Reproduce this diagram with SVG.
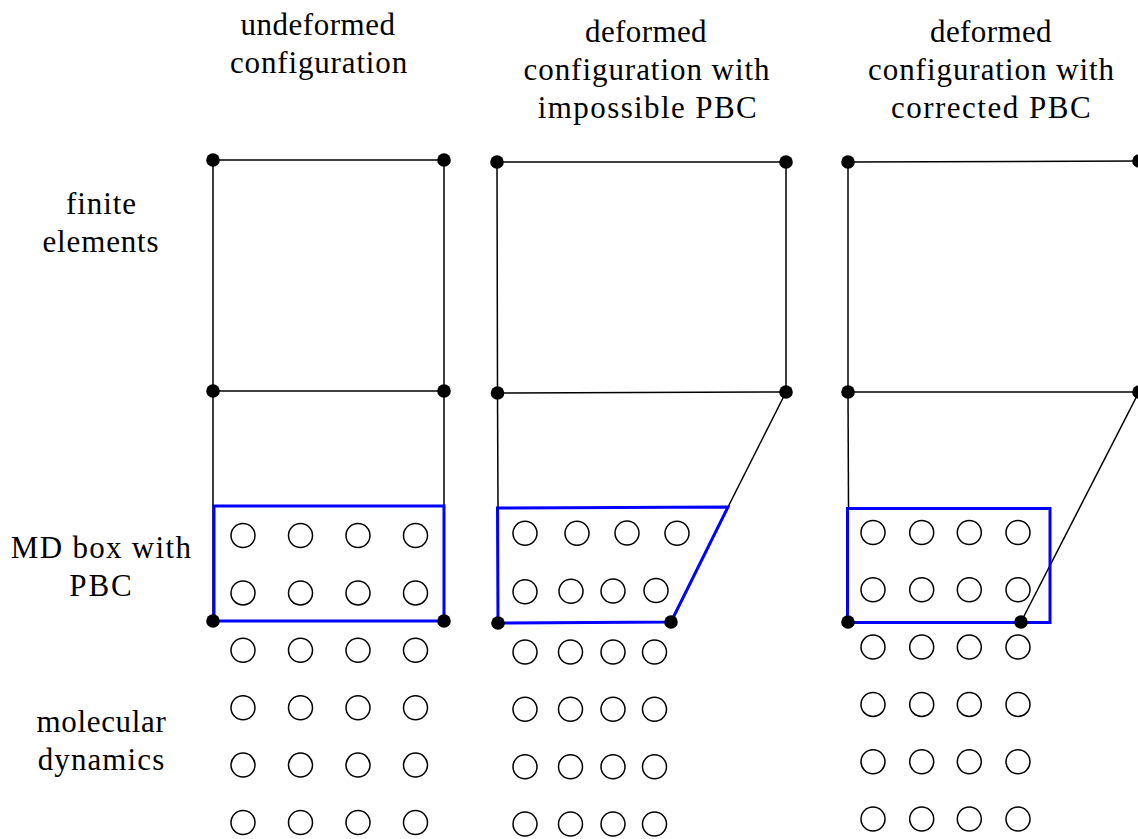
<svg xmlns="http://www.w3.org/2000/svg" width="1138" height="839" viewBox="0 0 1138 839">
<style>
.ln{stroke:#000;stroke-width:1.5;fill:none}
.box{stroke:#0000ff;stroke-width:3;fill:none;stroke-linejoin:miter}
.at{stroke:#000;stroke-width:1.5;fill:#fff}
.nd{fill:#000}
</style>
<defs>
<circle id="a" r="12" class="at"/>
<circle id="n" r="6.8" class="nd"/>
</defs>
<rect width="1138" height="839" fill="#fff"/>
<g id="labels" font-size="31" text-anchor="middle" fill="#000">
<text x="318" y="35" font-family="Liberation Serif" letter-spacing="0.5">undeformed</text>
<text x="319" y="73" font-family="Liberation Serif" letter-spacing="0.85">configuration</text>
<text x="646" y="42" font-family="Liberation Serif" letter-spacing="0.4">deformed</text>
<text x="647" y="80" font-family="Liberation Serif" letter-spacing="0.95">configuration with</text>
<text x="648" y="118" font-family="Liberation Serif" letter-spacing="1.4">impossible PBC</text>
<text x="991" y="42" font-family="Liberation Serif" letter-spacing="0.4">deformed</text>
<text x="991.5" y="80" font-family="Liberation Serif" letter-spacing="0.95">configuration with</text>
<text x="991.5" y="118" font-family="Liberation Serif" letter-spacing="1.5">corrected PBC</text>
<text x="101.5" y="214" font-family="Liberation Serif" letter-spacing="0.9">finite</text>
<text x="101" y="252" font-family="Liberation Serif" letter-spacing="0.85">elements</text>
<text x="101.5" y="558" font-family="Liberation Serif" letter-spacing="1.3">MD box with</text>
<text x="101.5" y="596" font-family="Liberation Serif" letter-spacing="2">PBC</text>
<text x="101.5" y="732" font-family="Liberation Serif" letter-spacing="0.65">molecular</text>
<text x="101.5" y="770" font-family="Liberation Serif" letter-spacing="1.1">dynamics</text>
</g>
<g id="connectors">
<polyline class="ln" points="213,621 213,160 444,160 444,621"/>
<line class="ln" x1="213" y1="391" x2="444" y2="391"/>
<polyline class="ln" points="497.5,393 497,162 786,162 786,392"/>
<line class="ln" x1="497" y1="393" x2="786" y2="392"/>
<line class="ln" x1="497.5" y1="393" x2="498" y2="508"/>
<line class="ln" x1="786" y1="392" x2="728" y2="507"/>
<polyline class="ln" points="848,392 848,162 1139,161 1139,392"/>
<line class="ln" x1="848" y1="392" x2="1139" y2="392"/>
<line class="ln" x1="848" y1="392" x2="848.5" y2="508"/>
<line class="ln" x1="1139" y1="392" x2="1021" y2="622"/>
</g>
<g id="md-box-1"><rect class="box" x="214" y="506" width="230" height="115"/></g>
<g id="md-box-2"><polygon class="box" points="497.5,508 728,507 671,622 498,623"/></g>
<g id="md-box-3"><rect class="box" x="847.5" y="508.5" width="202.5" height="114"/></g>
<g id="atoms-1">
<use href="#a" x="243" y="535.5"/><use href="#a" x="300.5" y="535.5"/><use href="#a" x="358" y="535.5"/><use href="#a" x="415.5" y="535.5"/>
<use href="#a" x="243" y="592.9"/><use href="#a" x="300.5" y="592.9"/><use href="#a" x="358" y="592.9"/><use href="#a" x="415.5" y="592.9"/>
<use href="#a" x="243" y="650.3"/><use href="#a" x="300.5" y="650.3"/><use href="#a" x="358" y="650.3"/><use href="#a" x="415.5" y="650.3"/>
<use href="#a" x="243" y="707.7"/><use href="#a" x="300.5" y="707.7"/><use href="#a" x="358" y="707.7"/><use href="#a" x="415.5" y="707.7"/>
<use href="#a" x="243" y="765.1"/><use href="#a" x="300.5" y="765.1"/><use href="#a" x="358" y="765.1"/><use href="#a" x="415.5" y="765.1"/>
<use href="#a" x="243" y="822.5"/><use href="#a" x="300.5" y="822.5"/><use href="#a" x="358" y="822.5"/><use href="#a" x="415.5" y="822.5"/>
</g>
<g id="atoms-2">
<use href="#a" x="525" y="533.3"/><use href="#a" x="577" y="533.3"/><use href="#a" x="627" y="533"/><use href="#a" x="677" y="533.3"/>
<use href="#a" x="525" y="591.7"/><use href="#a" x="571" y="591.3"/><use href="#a" x="613" y="591"/><use href="#a" x="656" y="590.5"/>
<use href="#a" x="525" y="652"/><use href="#a" x="570.5" y="652"/><use href="#a" x="613" y="652"/><use href="#a" x="654.5" y="652"/>
<use href="#a" x="525" y="709.3"/><use href="#a" x="570.5" y="709.3"/><use href="#a" x="613" y="709.3"/><use href="#a" x="654.5" y="709.3"/>
<use href="#a" x="525" y="766.7"/><use href="#a" x="570.5" y="766.7"/><use href="#a" x="613" y="766.7"/><use href="#a" x="654.5" y="766.7"/>
<use href="#a" x="525" y="824"/><use href="#a" x="570.5" y="824"/><use href="#a" x="613" y="824"/><use href="#a" x="654.5" y="824"/>
</g>
<g id="atoms-3">
<use href="#a" x="873" y="532.5"/><use href="#a" x="921.7" y="532.5"/><use href="#a" x="969.3" y="532.5"/><use href="#a" x="1018" y="532.5"/>
<use href="#a" x="873" y="589.8"/><use href="#a" x="921.7" y="589.8"/><use href="#a" x="969.3" y="589.8"/><use href="#a" x="1018" y="589.8"/>
<use href="#a" x="873" y="647.1"/><use href="#a" x="921.7" y="647.1"/><use href="#a" x="969.3" y="647.1"/><use href="#a" x="1018" y="647.1"/>
<use href="#a" x="873" y="704.4"/><use href="#a" x="921.7" y="704.4"/><use href="#a" x="969.3" y="704.4"/><use href="#a" x="1018" y="704.4"/>
<use href="#a" x="873" y="761.7"/><use href="#a" x="921.7" y="761.7"/><use href="#a" x="969.3" y="761.7"/><use href="#a" x="1018" y="761.7"/>
<use href="#a" x="873" y="819"/><use href="#a" x="921.7" y="819"/><use href="#a" x="969.3" y="819"/><use href="#a" x="1018" y="819"/>
</g>
<g id="nodes-1">
<use href="#n" x="213" y="160"/><use href="#n" x="444" y="160"/>
<use href="#n" x="213" y="391"/><use href="#n" x="444" y="391"/>
<use href="#n" x="213" y="621"/><use href="#n" x="444" y="621"/>
</g>
<g id="nodes-2">
<use href="#n" x="497" y="162"/><use href="#n" x="786" y="162"/>
<use href="#n" x="497.5" y="393"/><use href="#n" x="786" y="392"/>
<use href="#n" x="498" y="623"/><use href="#n" x="671" y="622"/>
</g>
<g id="nodes-3">
<use href="#n" x="848" y="162"/><use href="#n" x="1139" y="161"/>
<use href="#n" x="848" y="392"/><use href="#n" x="1139" y="392"/>
<use href="#n" x="848" y="622"/><use href="#n" x="1021" y="622"/>
</g>
</svg>
